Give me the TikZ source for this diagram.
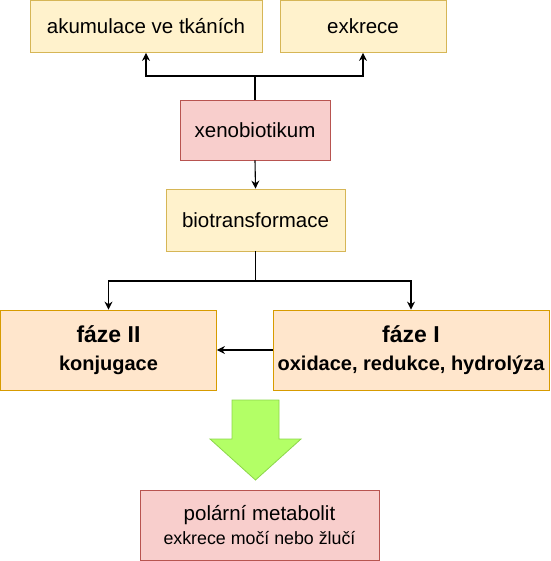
\documentclass[tikz,border=0pt]{standalone}
\usepackage{fontspec}
\setmainfont{Liberation Sans}
\usetikzlibrary{arrows.meta}

\definecolor{yfill}{HTML}{FFF2CC}
\definecolor{ydraw}{HTML}{D6B656}
\definecolor{rfill}{HTML}{F8CECC}
\definecolor{rdraw}{HTML}{B85450}
\definecolor{ofill}{HTML}{FFE6CC}
\definecolor{odraw}{HTML}{D79B00}
\definecolor{gfill}{HTML}{B3FF66}
\definecolor{gdraw}{HTML}{8CD64A}

\tikzset{
	box/.style={draw, rectangle, line width=0.8pt, inner sep=0pt, align=center,
		font=\fontsize{20.5}{24}\selectfont},
	ybox/.style={box, fill=yfill, draw=ydraw},
	rbox/.style={box, fill=rfill, draw=rdraw},
	obox/.style={box, fill=ofill, draw=odraw, font=\fontsize{20}{28}\selectfont\bfseries},
	arr/.style={-{Stealth[length=8pt, width=8pt]}, line width=1.1pt, black}
}

\begin{document}
\begin{tikzpicture}[x=1pt, y=-1pt]

\useasboundingbox (0, 0) rectangle (550, 561);

\node[ybox, minimum width=232, minimum height=52] (akum) at (146, 26.5) {akumulace ve tkáních};
\node[ybox, minimum width=166, minimum height=52] (exk) at (363, 26.5) {exkrece};
\node[rbox, minimum width=150, minimum height=60] (xeno) at (255, 130) {xenobiotikum};
\node[ybox, minimum width=179, minimum height=62] (bio) at (255.5, 220) {biotransformace};
\node[obox, minimum width=216, minimum height=80] (f2) at (108.5, 350)
	{{\fontsize{23}{28}\selectfont fáze II}\\konjugace};
\node[obox, minimum width=276, minimum height=80] (f1) at (411, 350)
	{{\fontsize{23}{28}\selectfont fáze I}\\oxidace, redukce, hydrolýza};
\node[rbox, minimum width=239, minimum height=70, font=\fontsize{20.5}{24}\selectfont] (polar) at (259.5, 525)
	{polární metabolit\\{\fontsize{17.8}{20}\selectfont exkrece močí nebo žlučí}};

% vetveni
\coordinate (split) at (xeno.north |- 0, 76);
\coordinate (fork) at (bio.south |- 0, 281);
\draw[line width=1.1pt] (xeno.north) -- (split);
\foreach \n in {akum, exk}
	\draw[arr] (split) -| (\n.south);
\draw[arr] (xeno.south) -- (bio.north);
\draw[line width=1.1pt] (bio.south) -- (fork);
\foreach \n in {f1, f2}
	\draw[arr] (fork) -| (\n.north);
\draw[arr] (f1.west) -- (f2.east);

% zelena sipka
\draw[fill=gfill, draw=gdraw, line width=0.8pt] (232, 400) -- (279, 400) -- (279, 439) -- (301, 439)
	-- (255.5, 480) -- (210, 439) -- (232, 439) -- cycle;

\end{tikzpicture}
\end{document}
